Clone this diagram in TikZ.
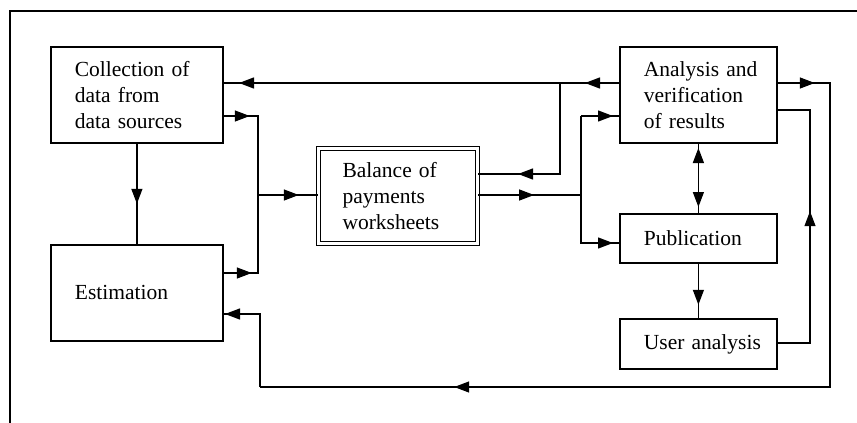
\documentclass[tikz,border=0pt]{standalone}
\usepackage{fontspec}
\setmainfont{Liberation Serif}
\usetikzlibrary{arrows.meta,decorations.markings}
\tikzset{
  tipshape/.tip={Triangle[length=15pt,width=11pt]},
  box/.style n args={2}{draw, line width=1.8pt, anchor=north west,
    minimum width=#1, text width=#1, minimum height=#2,
    inner xsep=0pt, inner ysep=0pt, align=left,
    font=\fontsize{21.5}{26}\selectfont},
  tipat/.style={postaction={decorate,decoration={markings,
    mark=at position #1 with {\arrow{tipshape}}}}},
  tiprev/.style={postaction={decorate,decoration={markings,
    mark=at position #1 with {\arrowreversed{tipshape}}}}},
  conn/.style={line width=1.3pt},
}
\newcommand{\boxtext}[1]{\leftskip=24pt\relax #1\par}
\begin{document}
\begin{tikzpicture}[x=1pt,y=-1pt]
\useasboundingbox (0,0) rectangle (857,423);
\fill[white] (0,0) rectangle (857,423);
\draw[line width=2.4pt] (10,423) -- (10,11) -- (857,11);

% boxes
\node[box={172pt}{96pt}] (C) at (50,46) {\boxtext{Collection of\\data from\\data sources}};
\node[box={172pt}{96pt}] (E) at (50,244) {\boxtext{Estimation}};
\node[box={159pt}{95pt}, line width=1.1pt, double, double distance=2.2pt] (B) at (318,148) {\boxtext{Balance of\\payments\\worksheets}};
\node[box={157pt}{96pt}] (A) at (619,46) {\boxtext{Analysis and\\verification\\of results}};
\node[box={157pt}{49pt}] (P) at (619,213) {\boxtext{Publication}};
\node[box={157pt}{50pt}] (U) at (619,318) {\boxtext{User analysis}};

% junction coordinates
\coordinate (t1) at (560,83);
\coordinate (t2) at (560,174);
\coordinate (m1) at (258,116);
\coordinate (m2) at (258,195);
\coordinate (m3) at (258,273);
\coordinate (r1) at (581,116);
\coordinate (r2) at (581,195);
\coordinate (r3) at (581,243);
\coordinate (u1) at (810,110);
\coordinate (u2) at (810,343);
\coordinate (o1) at (830,83);
\coordinate (o2) at (830,387);
\coordinate (o3) at (260,387);
\coordinate (o4) at (260,314);

% connectors
\draw[conn, tipat=34pt, tipat=380pt] (A.west |- t1) -- (C.east |- t1);
\draw[conn, tipat=133pt] (t1) -- (t2) -- (B.east |- t2);
\draw[conn, tipat=26pt, tipat=154pt] (C.east |- m1) -- (m1) -- (m2) -- (B.west |- m2);
\draw[conn, tipat=28pt] (E.east |- m3) -- (m3) -- (m2);
\draw[conn, tipat=60pt] (C.south) -- (E.north);
\draw[conn, tipat=56pt] (B.east |- r2) -- (r2);
\draw[conn, tipat=32pt] (r1) -- (A.west |- r1);
\draw[conn, tipat=159pt] (r1) -- (r3) -- (P.west |- r3);
\draw[conn, tipat=65pt, tiprev=6pt] (P.north) -- (A.south);
\draw[conn, tipat=41pt] (P.south) -- (U.north);
\draw[conn, tipat=164pt] (U.east |- u2) -- (u2) -- (u1) -- (A.east |- u1);
\draw[conn, tipat=37pt, tipat=732pt] (A.east |- o1) -- (o1) -- (o2) -- (o3);
\draw[conn, tipat=108pt] (o3) -- (o4) -- (E.east |- o4);
\end{tikzpicture}
\end{document}
